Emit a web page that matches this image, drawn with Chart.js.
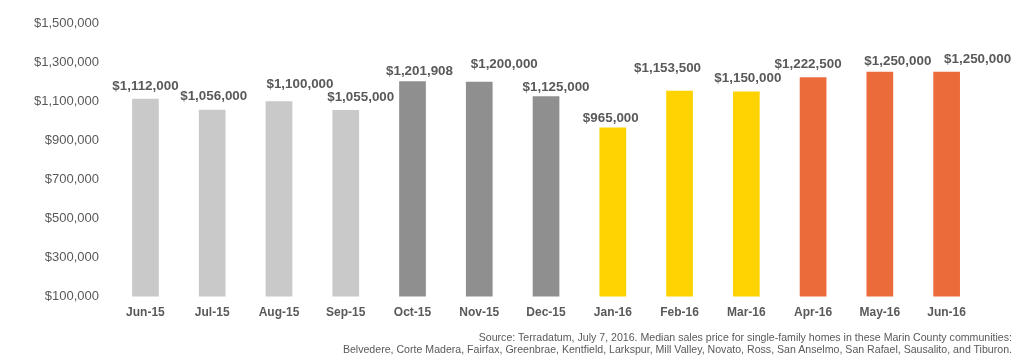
<!DOCTYPE html>
<html>
<head>
<meta charset="utf-8">
<script src="https://cdn.jsdelivr.net/npm/chart.js@4"></script>
<style>
  html, body { margin: 0; padding: 0; background: #fff; }
  #wrap { position: relative; width: 1021px; height: 360px; }
  #source {
    position: absolute; right: 9px; top: 331px;
    font-family: "Liberation Sans", Arial, sans-serif; font-size: 10.6px; line-height: 12px;
    color: #595959; text-align: right; white-space: nowrap;
  }
</style>
</head>
<body>
<div id="wrap">
  <canvas id="c" width="1021" height="360"></canvas>
  <div id="source">Source: Terradatum, July 7, 2016. Median sales price for single-family homes in these Marin County communities:<br>Belvedere, Corte Madera, Fairfax, Greenbrae, Kentfield, Larkspur, Mill Valley, Novato, Ross, San Anselmo, San Rafael, Sausalito, and Tiburon.</div>
</div>
<script>
const months = ["Jun-15","Jul-15","Aug-15","Sep-15","Oct-15","Nov-15","Dec-15","Jan-16","Feb-16","Mar-16","Apr-16","May-16","Jun-16"];
const medianPrices = [1112000,1056000,1100000,1055000,1201908,1200000,1125000,965000,1153500,1150000,1222500,1250000,1250000];
const barColors = ["#C9C9C9","#C9C9C9","#C9C9C9","#C9C9C9","#8F8F8F","#8F8F8F","#8F8F8F","#FFD300","#FFD300","#FFD300","#EC6B3A","#EC6B3A","#EC6B3A"];
const yMin = 100000, yMax = 1500000, yStep = 200000;

const fmt = v => "$" + v.toLocaleString("en-US");

const valueLabels = {
  id: "valueLabels",
  afterDatasetsDraw(chart, args, opts) {
    const ctx = chart.ctx;
    const meta = chart.getDatasetMeta(0);
    const gaps = opts.gaps || [];
    const shifts = opts.shifts || [];
    ctx.save();
    ctx.font = "bold 13.4px 'Liberation Sans', Arial, sans-serif";
    ctx.fillStyle = "#595959";
    ctx.textAlign = "center";
    ctx.textBaseline = "middle";
    meta.data.forEach((bar, i) => {
      ctx.fillText(fmt(medianPrices[i]), bar.x + (shifts[i] ?? 0), bar.y - (gaps[i] ?? 13));
    });
    ctx.restore();
  }
};

new Chart(document.getElementById("c"), {
  type: "bar",
  data: {
    labels: months,
    datasets: [{
      data: medianPrices,
      backgroundColor: barColors,
      barPercentage: 0.4,
      categoryPercentage: 1.0
    }]
  },
  options: {
    responsive: false,
    animation: false,
    layout: { padding: { top: 23, left: 29, right: 41, bottom: 39 } },
    plugins: {
      legend: { display: false },
      tooltip: { enabled: false },
      valueLabels: {
        gaps: [13,13,17,13,10,17,9,9,22,13,12.5,11,12.5],
        shifts: [0,1.5,21,15,7,25,10,-2,-12,1.5,-5,18,31]
      }
    },
    scales: {
      x: {
        grid: { display: false },
        border: { display: false },
        ticks: { color: "#595959", font: { family: "'Liberation Sans', Arial, sans-serif", size: 12, weight: "bold" }, padding: 1 }
      },
      y: {
        min: yMin, max: yMax,
        grid: { display: false },
        border: { display: false },
        ticks: {
          stepSize: yStep,
          color: "#595959",
          padding: 5,
          font: { family: "'Liberation Sans', Arial, sans-serif", size: 13 },
          callback: v => fmt(v)
        }
      }
    }
  },
  plugins: [valueLabels]
});
</script>
</body>
</html>
